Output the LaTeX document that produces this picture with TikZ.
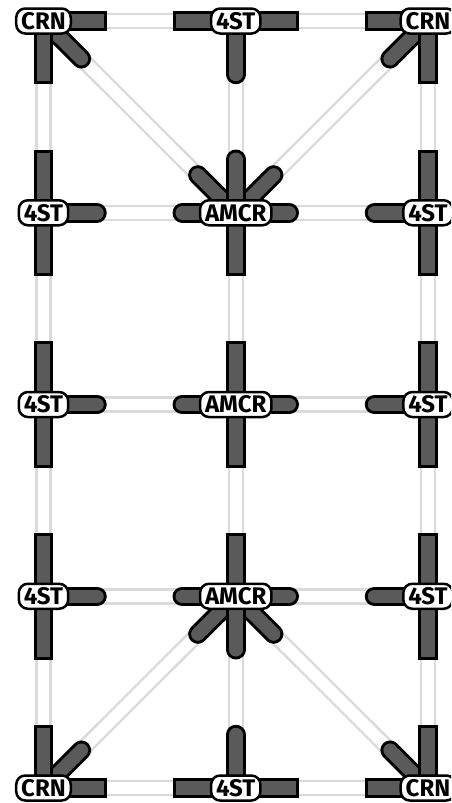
\documentclass[tikz,border=0pt]{standalone}
\usepackage{fontspec}
\setmainfont{Fira Sans}
\usetikzlibrary{calc}
\definecolor{stubgray}{RGB}{90,90,90}
\definecolor{edgegray}{RGB}{218,218,218}
\tikzset{
  edge/.style={draw=edgegray, line width=2.5pt, double=white, double distance=11.5pt},
  stubout/.style={draw=black, line width=19.5pt},
  stubin/.style={draw=stubgray, line width=13.5pt},
  lbl/.style={draw=black, line width=2.5pt, fill=white, rounded corners=9pt,
    inner xsep=5pt, inner ysep=4.25pt, text height=16.5pt, text depth=0pt,
    font=\bfseries\fontsize{24}{26}\selectfont}
}
\newcommand\sqstub[2]{%
  \draw[stubout, line cap=rect] (#1) -- ($(#1)!53.5pt!(#2)$);
  \draw[stubin, line cap=rect] (#1) -- ($(#1)!53.5pt!(#2)$);}
\newcommand\rdstub[2]{%
  \draw[stubout, line cap=round] (#1) -- ($(#1)!53.5pt!(#2)$);
  \draw[stubin, line cap=round] (#1) -- ($(#1)!53.5pt!(#2)$);}
\begin{document}
\begin{tikzpicture}[x=1pt, y=-1pt]
\useasboundingbox (0,0) rectangle (451,803);
\clip (0,0) rectangle (451,803);
% grid coordinates
\foreach \r/\y in {1/21, 2/212.75, 3/404.5, 4/596.25, 5/788} {
  \foreach \c/\x in {1/43.5, 2/235.75, 3/428} {
    \coordinate (c\r\c) at (\x,\y);
  }
}
% background edges
\foreach \r in {1,...,5} {
  \draw[edge] (c\r1) -- (c\r2);
  \draw[edge] (c\r2) -- (c\r3);
}
\foreach \c in {1,2,3} {
  \draw[edge] (c1\c) -- (c2\c);
  \draw[edge] (c2\c) -- (c3\c);
  \draw[edge] (c3\c) -- (c4\c);
  \draw[edge] (c4\c) -- (c5\c);
}
\draw[edge] (c11) -- (c22);
\draw[edge] (c13) -- (c22);
\draw[edge] (c51) -- (c42);
\draw[edge] (c53) -- (c42);
% row 1
\rdstub{c11}{c22}\sqstub{c11}{c21}\sqstub{c11}{c12}
\rdstub{c12}{c22}\sqstub{c12}{c11}\sqstub{c12}{c13}
\rdstub{c13}{c22}\sqstub{c13}{c23}\sqstub{c13}{c12}
% row 2
\sqstub{c21}{c11}\sqstub{c21}{c31}\rdstub{c21}{c22}
\rdstub{c22}{c11}\rdstub{c22}{c13}\rdstub{c22}{c12}\sqstub{c22}{c32}\rdstub{c22}{c21}\rdstub{c22}{c23}
\sqstub{c23}{c13}\sqstub{c23}{c33}\rdstub{c23}{c22}
% row 3
\sqstub{c31}{c21}\sqstub{c31}{c41}\rdstub{c31}{c32}
\sqstub{c32}{c22}\sqstub{c32}{c42}\rdstub{c32}{c31}\rdstub{c32}{c33}
\sqstub{c33}{c23}\sqstub{c33}{c43}\rdstub{c33}{c32}
% row 4
\sqstub{c41}{c31}\sqstub{c41}{c51}\rdstub{c41}{c42}
\rdstub{c42}{c51}\rdstub{c42}{c53}\sqstub{c42}{c32}\rdstub{c42}{c52}\rdstub{c42}{c41}\rdstub{c42}{c43}
\sqstub{c43}{c33}\sqstub{c43}{c53}\rdstub{c43}{c42}
% row 5
\rdstub{c51}{c42}\sqstub{c51}{c41}\sqstub{c51}{c52}
\rdstub{c52}{c42}\sqstub{c52}{c51}\sqstub{c52}{c53}
\rdstub{c53}{c42}\sqstub{c53}{c43}\sqstub{c53}{c52}
% labels
\node[lbl] (l11) at (c11) {CRN};
\node[lbl] (l12) at (c12) {4ST};
\node[lbl] (l13) at (c13) {CRN};
\node[lbl] (l21) at (c21) {4ST};
\node[lbl] (l22) at (c22) {AMCR};
\node[lbl] (l23) at (c23) {4ST};
\node[lbl] (l31) at (c31) {4ST};
\node[lbl] (l32) at (c32) {AMCR};
\node[lbl] (l33) at (c33) {4ST};
\node[lbl] (l41) at (c41) {4ST};
\node[lbl] (l42) at (c42) {AMCR};
\node[lbl] (l43) at (c43) {4ST};
\node[lbl] (l51) at (c51) {CRN};
\node[lbl] (l52) at (c52) {4ST};
\node[lbl] (l53) at (c53) {CRN};
\end{tikzpicture}
\end{document}
